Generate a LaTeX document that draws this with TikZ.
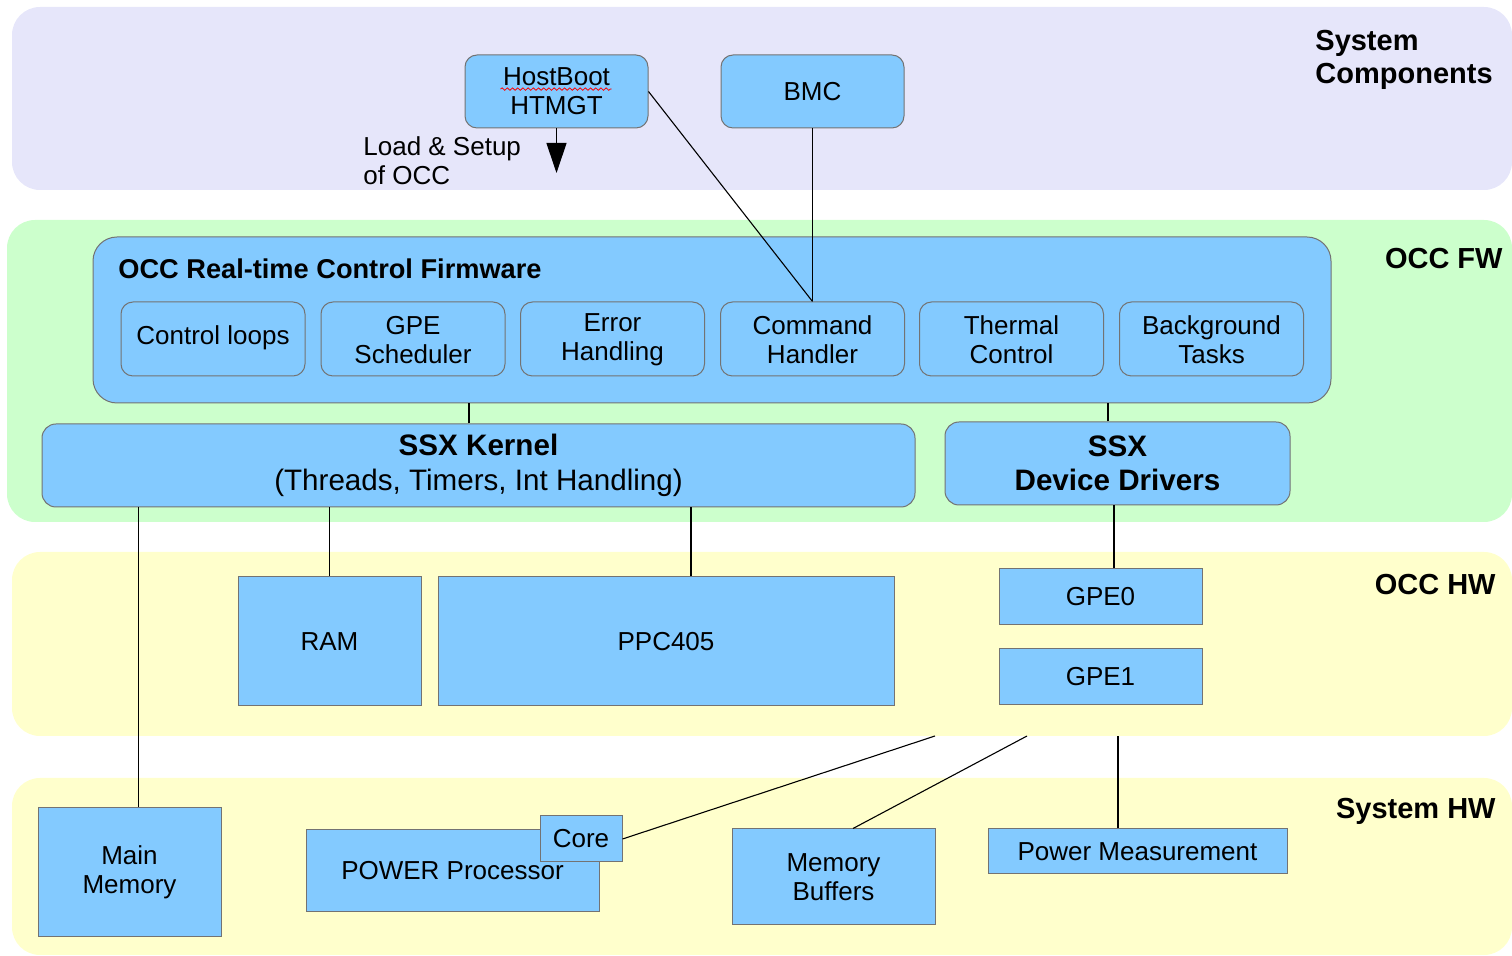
\documentclass[tikz,border=0pt]{standalone}
\usepackage{fontspec}
\setmainfont{Liberation Sans}
\usetikzlibrary{arrows.meta,decorations.pathmorphing}
\definecolor{bandsys}{RGB}{230,230,250}
\definecolor{bandfw}{RGB}{204,255,204}
\definecolor{bandhw}{RGB}{255,255,204}
\definecolor{boxblue}{RGB}{131,202,255}
\definecolor{boxline}{RGB}{115,115,115}
\tikzset{
  blk/.style={draw=boxline,fill=boxblue,line width=0.5pt,inner sep=0pt,align=center,
    font=\fontsize{13}{14.5}\selectfont},
  rblk/.style={blk,rounded corners=6pt},
  fwtask/.style={rblk,minimum width=92pt,minimum height=37pt},
  layer/.style={font=\bfseries\fontsize{14.5}{16.5}\selectfont,inner sep=0pt,align=left},
  wire/.style={black,line width=0.55pt},
}

\begin{document}
\begin{tikzpicture}[x=0.5pt,y=-0.5pt]
    \useasboundingbox (0,0) rectangle (1512,956);
    % layers
    \fill[bandsys,rounded corners=14pt] (12,7) rectangle (1512,190);
    \fill[bandfw,rounded corners=14pt] (7,220) rectangle (1512,522);
    \fill[bandhw,rounded corners=14pt] (12,552) rectangle (1512,736);
    \fill[bandhw,rounded corners=14pt] (12,778) rectangle (1512,955);
    \node[layer,anchor=west] (lsys) at (1315,60) {System\\Components};
    \node[layer,anchor=east] (lfw) at (1503,259) {OCC FW};
    \node[layer,anchor=east] (lhw) at (1496,585) {OCC HW};
    \node[layer,anchor=east] (lshw) at (1496,811) {System HW};

    % system components
    \node[rblk,minimum width=91.5pt,minimum height=36.5pt] (host) at (556.5,91.5) {HostBoot\\HTMGT};
    \draw[red,line width=0.4pt,decorate,decoration={snake,amplitude=0.6pt,segment length=2.6pt}]
        ([xshift=-28pt,yshift=1.2pt]host.center) -- ([xshift=27.5pt,yshift=1.2pt]host.center);
    \node[rblk,minimum width=91.5pt,minimum height=36.5pt] (bmc) at (812.5,91.5) {BMC};
    \coordinate (ld) at (556.5,173);
    \draw[wire,-{Triangle[width=10pt,length=15pt]}] (host.south) -- (ld);
    \node[anchor=west,inner sep=0pt,align=left,font=\fontsize{13}{14.5}\selectfont] (ldtxt) at (363,161) {Load \& Setup\\of OCC};

    % firmware
    \node[rblk,rounded corners=12pt,minimum width=619pt,minimum height=83pt] (fw) at (712,320) {};
    \node[anchor=west,inner sep=0pt,font=\bfseries\fontsize{13.6}{15}\selectfont] (fwtitle) at (118,269) {OCC Real-time Control Firmware};
    \foreach \x/\name/\txt in {213/cl/{Control loops},413/gs/{GPE\\Scheduler},612.5/eh/{Error\\Handling},
        812.5/ch/{Command\\Handler},1011.5/tc/{Thermal\\Control},1211.5/bg/{Background\\Tasks}}
        \node[fwtask] (\name) at (\x,339) {\strut\txt};
    \node[rblk,rounded corners=7pt,minimum width=436.5pt,minimum height=41.5pt,
        font=\fontsize{14.8}{17.5}\selectfont] (kernel) at (478.5,465.5) {\textbf{SSX Kernel}\\(Threads, Timers, Int Handling)};
    \node[rblk,rounded corners=7pt,minimum width=172.5pt,minimum height=41.5pt,
        font=\bfseries\fontsize{14.8}{17}\selectfont] (drv) at (1117.5,463.5) {SSX\\Device Drivers};

    % occ hardware
    \node[blk,minimum width=91.5pt,minimum height=64.5pt] (ram) at (329.5,641.5) {RAM};
    \node[blk,minimum width=228pt,minimum height=64.5pt] (ppc) at (666,641.5) {PPC405};
    \node[blk,minimum width=101.5pt,minimum height=28pt] (gpe0) at (1100.5,597) {GPE0};
    \node[blk,minimum width=101.5pt,minimum height=28pt] (gpe1) at (1100.5,677) {GPE1};

    % system hardware
    \node[blk,minimum width=91.5pt,minimum height=64.5pt] (mainmem) at (129.5,872.5) {Main\\Memory};
    \node[blk,minimum width=146.5pt,minimum height=41pt] (power) at (452.5,871) {POWER Processor};
    \node[blk,minimum width=41pt,minimum height=23pt] (core) at (581,839) {Core};
    \node[blk,minimum width=101.5pt,minimum height=48pt] (membuf) at (833.5,877) {Memory\\Buffers};
    \node[blk,minimum width=149.5pt,minimum height=22.5pt] (pmeas) at (1137.5,851.5) {Power Measurement};

    % connections
    \draw[wire] (host.east) -- (ch.north);
    \draw[wire] (bmc.south) -- (ch.north);
    \draw[wire] ([xshift=-4.75pt]kernel.north) coordinate (k0) -- (k0 |- fw.south);
    \draw[wire] ([xshift=-4.75pt]drv.north) coordinate (d0) -- (d0 |- fw.south);
    \draw[wire] ([xshift=4.5pt]mainmem.north) coordinate (m0) -- (m0 |- kernel.south);
    \draw[wire] (ram.north) -- (ram.north |- kernel.south);
    \draw[wire] ([xshift=12.5pt]ppc.north) coordinate (p0) -- (p0 |- kernel.south);
    \draw[wire] ([xshift=6.75pt]gpe0.north) coordinate (g0) -- (g0 |- drv.south);
    \coordinate (hwa) at (935,736);
    \coordinate (hwb) at (1027,736);
    \coordinate (hwc) at (1118,736);
    \draw[wire] (core.east) -- (hwa);
    \draw[wire] ([xshift=9.75pt]membuf.north) -- (hwb);
    \draw[wire] ([xshift=-9.75pt]pmeas.north) -- (hwc);
\end{tikzpicture}
\end{document}
